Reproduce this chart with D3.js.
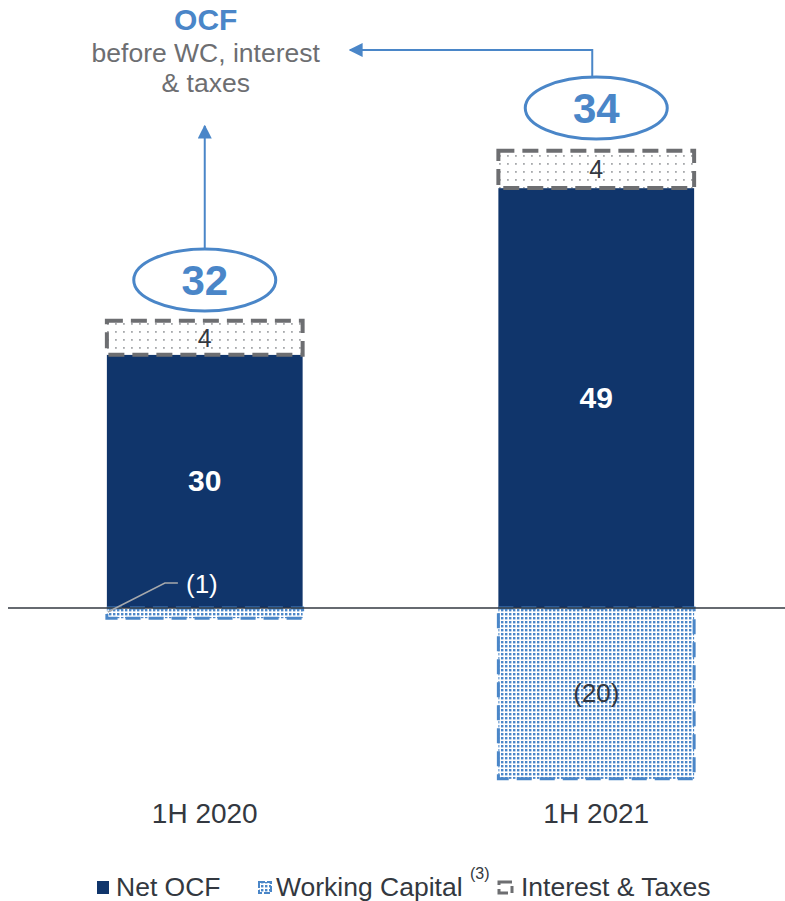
<!DOCTYPE html>
<html>
<head>
<meta charset="utf-8">
<script src="https://cdn.jsdelivr.net/npm/d3@7/dist/d3.min.js"></script>
<style>
  body { margin: 0; background: #fff; }
  svg { display: block; font-family: "Liberation Sans", Arial, sans-serif; }
</style>
</head>
<body>
<div id="chart"></div>
<script>
// data
const periods = ['1H 2020', '1H 2021'];
const netOcf = [29.8, 49.4];
const interestTaxes = [4.0, 4.4];
const workingCapital = [-1.2, -20.1];
const ocfBefore = [32, 34];
const legendItems = ['Net OCF', 'Working Capital', 'Interest & Taxes'];

const width = 785, height = 901;
const navy = '#10356b', blue = '#4a86c8', grey = '#6d6e71', ink = '#333840';

const svg = d3.select('#chart').append('svg')
    .attr('width', width)
    .attr('height', height);

const defs = svg.append('defs');

// dotted fill for working capital
const pWc = defs.append('pattern').attr('id', 'dots-wc')
    .attr('patternUnits', 'userSpaceOnUse')
    .attr('width', 4).attr('height', 4);
pWc.append('rect').attr('width', 4).attr('height', 4).attr('fill', '#fff');
pWc.append('rect').attr('x', 1).attr('y', 1).attr('width', 2.4).attr('height', 2.4).attr('fill', blue);

// sparse grey dots for interest & taxes
const pIt = defs.append('pattern').attr('id', 'dots-it')
    .attr('patternUnits', 'userSpaceOnUse')
    .attr('width', 8).attr('height', 8);
pIt.append('rect').attr('width', 8).attr('height', 8).attr('fill', '#fff');
pIt.append('rect').attr('x', 3).attr('y', 3).attr('width', 1.8).attr('height', 1.8).attr('fill', '#a7a9ac');

defs.append('marker').attr('id', 'arrow')
    .attr('viewBox', '0 0 10 10')
    .attr('refX', 9).attr('refY', 5)
    .attr('markerWidth', 7).attr('markerHeight', 7)
    .attr('markerUnits', 'strokeWidth')
    .attr('orient', 'auto')
    .append('path').attr('d', 'M0,0 L10,5 L0,10 Z').attr('fill', blue);

const x = d3.scaleBand()
    .domain(periods)
    .range([9, 792])
    .paddingInner(0.5)
    .paddingOuter(0.25);

const y = d3.scaleLinear()
    .domain([-25, 70])
    .range([608 + 25 * 8.5, 608 - 70 * 8.5]);

const bw = x.bandwidth();
const rows = periods.map((p, i) => ({
    p: p,
    net: netOcf[i],
    it: interestTaxes[i],
    wc: workingCapital[i],
    total: ocfBefore[i]
}));

const g = svg.append('g');

// net OCF bars
g.selectAll('rect.net')
    .data(rows)
    .enter().append('rect')
    .attr('class', 'net')
    .attr('x', d => x(d.p))
    .attr('y', d => y(d.net))
    .attr('width', bw)
    .attr('height', d => y(0) - y(d.net))
    .attr('fill', navy);

// interest & taxes boxes on top
g.selectAll('rect.it')
    .data(rows)
    .enter().append('rect')
    .attr('class', 'it')
    .attr('x', d => x(d.p))
    .attr('y', d => y(d.net + d.it))
    .attr('width', bw)
    .attr('height', d => y(d.net) - y(d.net + d.it))
    .attr('fill', 'url(#dots-it)')
    .attr('stroke', grey)
    .attr('stroke-width', 4)
    .attr('stroke-dasharray', '16,8');

// working capital boxes below zero
g.selectAll('rect.wc')
    .data(rows)
    .enter().append('rect')
    .attr('class', 'wc')
    .attr('x', d => x(d.p))
    .attr('y', y(0))
    .attr('width', bw)
    .attr('height', d => y(d.wc) - y(0))
    .attr('fill', 'url(#dots-wc)')
    .attr('stroke', blue)
    .attr('stroke-width', 3)
    .attr('stroke-dasharray', '15,8');

// zero line
svg.append('line')
    .attr('x1', 8).attr('x2', width)
    .attr('y1', y(0)).attr('y2', y(0))
    .attr('stroke', ink)
    .attr('stroke-width', 1.5);

// labels inside bars
g.selectAll('text.net')
    .data(rows)
    .enter().append('text')
    .attr('x', d => x(d.p) + bw / 2)
    .attr('y', d => y(d.net / 2) + 10)
    .attr('text-anchor', 'middle')
    .attr('fill', '#fff')
    .style('font-size', '30px')
    .style('font-weight', 'bold')
    .text(d => Math.round(d.net));

g.selectAll('text.it')
    .data(rows)
    .enter().append('text')
    .attr('x', d => x(d.p) + bw / 2)
    .attr('y', d => y(d.net + d.it / 2) + 9)
    .attr('text-anchor', 'middle')
    .attr('fill', ink)
    .style('font-size', '25px')
    .text(d => Math.round(d.it));

// WC labels: small one sits on the navy bar with a leader line
rows.forEach(d => {
    const v = '(' + Math.round(-d.wc) + ')';
    if (-d.wc < 3) {
        const lx = x(d.p) + 1, ly = y(0) + 4;
        svg.append('polyline')
            .attr('points', [[lx, ly], [x(d.p) + 58, y(0) - 25], [x(d.p) + 71, y(0) - 25]].join(' '))
            .attr('fill', 'none')
            .attr('stroke', '#a7a9ac')
            .attr('stroke-width', 1.5);
        svg.append('text')
            .attr('x', x(d.p) + 95)
            .attr('y', y(0) - 15)
            .attr('text-anchor', 'middle')
            .attr('fill', '#fff')
            .style('font-size', '26px')
            .text(v);
    } else {
        svg.append('text')
            .attr('x', x(d.p) + bw / 2)
            .attr('y', y(d.wc / 2) + 9)
            .attr('text-anchor', 'middle')
            .attr('fill', ink)
            .style('font-size', '26px')
            .text(v);
    }
});

// category labels
svg.selectAll('text.cat')
    .data(periods)
    .enter().append('text')
    .attr('x', d => x(d) + bw / 2)
    .attr('y', 823)
    .attr('text-anchor', 'middle')
    .attr('fill', ink)
    .style('font-size', '28px')
    .text(d => d);

// total ellipses
const ellY = [280, 108];
rows.forEach((d, i) => {
    const cx = x(d.p) + bw / 2;
    svg.append('ellipse')
        .attr('cx', cx).attr('cy', ellY[i])
        .attr('rx', 71).attr('ry', 31)
        .attr('fill', '#fff')
        .attr('stroke', blue)
        .attr('stroke-width', 3);
    svg.append('text')
        .attr('x', cx).attr('y', ellY[i] + 15)
        .attr('text-anchor', 'middle')
        .attr('fill', blue)
        .style('font-size', '42px')
        .style('font-weight', 'bold')
        .text(d.total);
});

// arrows
const c1 = x(periods[0]) + bw / 2, c2 = x(periods[1]) + bw / 2 - 4;
svg.append('line')
    .attr('x1', c1).attr('y1', ellY[0] - 32)
    .attr('x2', c1).attr('y2', 126)
    .attr('stroke', blue).attr('stroke-width', 2)
    .attr('marker-end', 'url(#arrow)');
svg.append('polyline')
    .attr('points', [[c2, ellY[1] - 32], [c2, 50], [350, 50]].join(' '))
    .attr('fill', 'none')
    .attr('stroke', blue).attr('stroke-width', 2)
    .attr('marker-end', 'url(#arrow)');

// OCF title
const title = svg.append('g').attr('text-anchor', 'middle');
title.append('text').attr('x', c1 + 1).attr('y', 30)
    .attr('fill', blue).style('font-size', '30px').style('font-weight', 'bold')
    .text('OCF');
title.append('text').attr('x', c1 + 1).attr('y', 62)
    .attr('fill', grey).style('font-size', '26.5px')
    .text('before WC, interest');
title.append('text').attr('x', c1 + 1).attr('y', 92)
    .attr('fill', grey).style('font-size', '26.5px')
    .text('& taxes');

// legend
const lg = svg.append('g').attr('transform', 'translate(0,896)');
const lx = [97, 258, 498];
const tx = [116, 276, 521];
lg.append('rect').attr('x', lx[0]).attr('y', -15).attr('width', 12).attr('height', 13).attr('fill', navy);
lg.append('rect').attr('x', lx[1] + 1).attr('y', -14).attr('width', 12).attr('height', 11)
    .attr('fill', 'url(#dots-wc)').attr('stroke', blue).attr('stroke-width', 2).attr('stroke-dasharray', '6,2');
lg.append('rect').attr('x', lx[2] + 1).attr('y', -14).attr('width', 13).attr('height', 11)
    .attr('fill', '#fff').attr('stroke', grey).attr('stroke-width', 3).attr('stroke-dasharray', '13,4,7,4');
legendItems.forEach((t, i) => {
    lg.append('text')
        .attr('x', tx[i]).attr('y', 0)
        .attr('fill', ink)
        .style('font-size', '26.5px')
        .text(t);
});
lg.append('text').attr('x', 470).attr('y', -17)
    .attr('fill', ink).style('font-size', '16px').text('(3)');
</script>
</body>
</html>
